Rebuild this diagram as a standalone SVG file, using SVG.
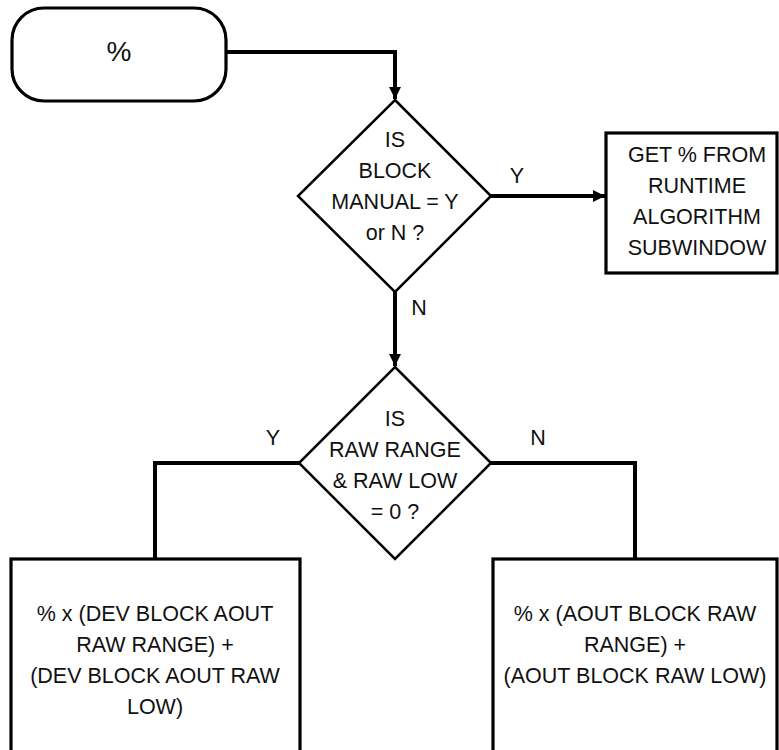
<svg xmlns="http://www.w3.org/2000/svg" width="779" height="750" viewBox="0 0 779 750">
  <style>
    .shape { fill: #ffffff; stroke: #000000; stroke-width: 3.2; }
    .decision { fill: #ffffff; stroke: #000000; stroke-width: 2.5; }
    .wire { fill: none; stroke: #000000; stroke-width: 4; }
    text { font-family: "Liberation Sans", Arial, sans-serif; font-size: 21.5px; fill: #111111; text-anchor: middle; }
    .big { font-size: 28px; }
  </style>
  <defs>
    <marker id="arrow" viewBox="0 0 10 10" refX="10" refY="5" markerWidth="3" markerHeight="3" orient="auto" markerUnits="strokeWidth">
      <path d="M0,0 L10,5 L0,10 z" fill="#000000"/>
    </marker>
  </defs>

  <!-- connectors -->
  <g id="connectors">
    <path class="wire" d="M226,52 H395 V99" marker-end="url(#arrow)"/>
    <path class="wire" d="M491,196 H605" marker-end="url(#arrow)"/>
    <path class="wire" d="M395,292 V366" marker-end="url(#arrow)"/>
    <path class="wire" d="M299,463 H155 V559"/>
    <path class="wire" d="M491,463 H635 V559"/>
    <text x="517" y="183">Y</text>
    <text x="419" y="315">N</text>
    <text x="273" y="445">Y</text>
    <text x="538" y="445">N</text>
  </g>

  <!-- start terminal -->
  <g id="start">
    <rect class="shape" x="12" y="8" width="214" height="93" rx="32" ry="32"/>
    <text class="big" x="119" y="61">%</text>
  </g>

  <!-- decision: manual mode -->
  <g id="decision-manual">
    <polygon class="decision" points="395,100 491,196 395,292 298,196"/>
    <text x="395" y="147">IS</text>
    <text x="395" y="178">BLOCK</text>
    <text x="395" y="209">MANUAL = Y</text>
    <text x="395" y="240">or N ?</text>
  </g>

  <!-- runtime subwindow -->
  <g id="runtime">
    <rect class="shape" x="606" y="133" width="171" height="140"/>
    <text x="697" y="162">GET % FROM</text>
    <text x="697" y="193">RUNTIME</text>
    <text x="697" y="224">ALGORITHM</text>
    <text x="697" y="255">SUBWINDOW</text>
  </g>

  <!-- decision: raw range and low -->
  <g id="decision-raw">
    <polygon class="decision" points="395,367 491,463 395,559 299,463"/>
    <text x="395" y="426">IS</text>
    <text x="395" y="457">RAW RANGE</text>
    <text x="395" y="488">&amp; RAW LOW</text>
    <text x="395" y="519">= 0 ?</text>
  </g>

  <!-- dev block formula -->
  <g id="dev-block">
    <rect class="shape" x="11" y="559" width="289" height="200"/>
    <text x="155" y="621">% x (DEV BLOCK AOUT</text>
    <text x="155" y="652">RAW RANGE) +</text>
    <text x="155" y="683">(DEV BLOCK AOUT RAW</text>
    <text x="155" y="714">LOW)</text>
  </g>

  <!-- aout block formula -->
  <g id="aout-block">
    <rect class="shape" x="493" y="559" width="284" height="200"/>
    <text x="635" y="621">% x (AOUT BLOCK RAW</text>
    <text x="635" y="652">RANGE) +</text>
    <text x="635" y="683">(AOUT BLOCK RAW LOW)</text>
  </g>
</svg>
